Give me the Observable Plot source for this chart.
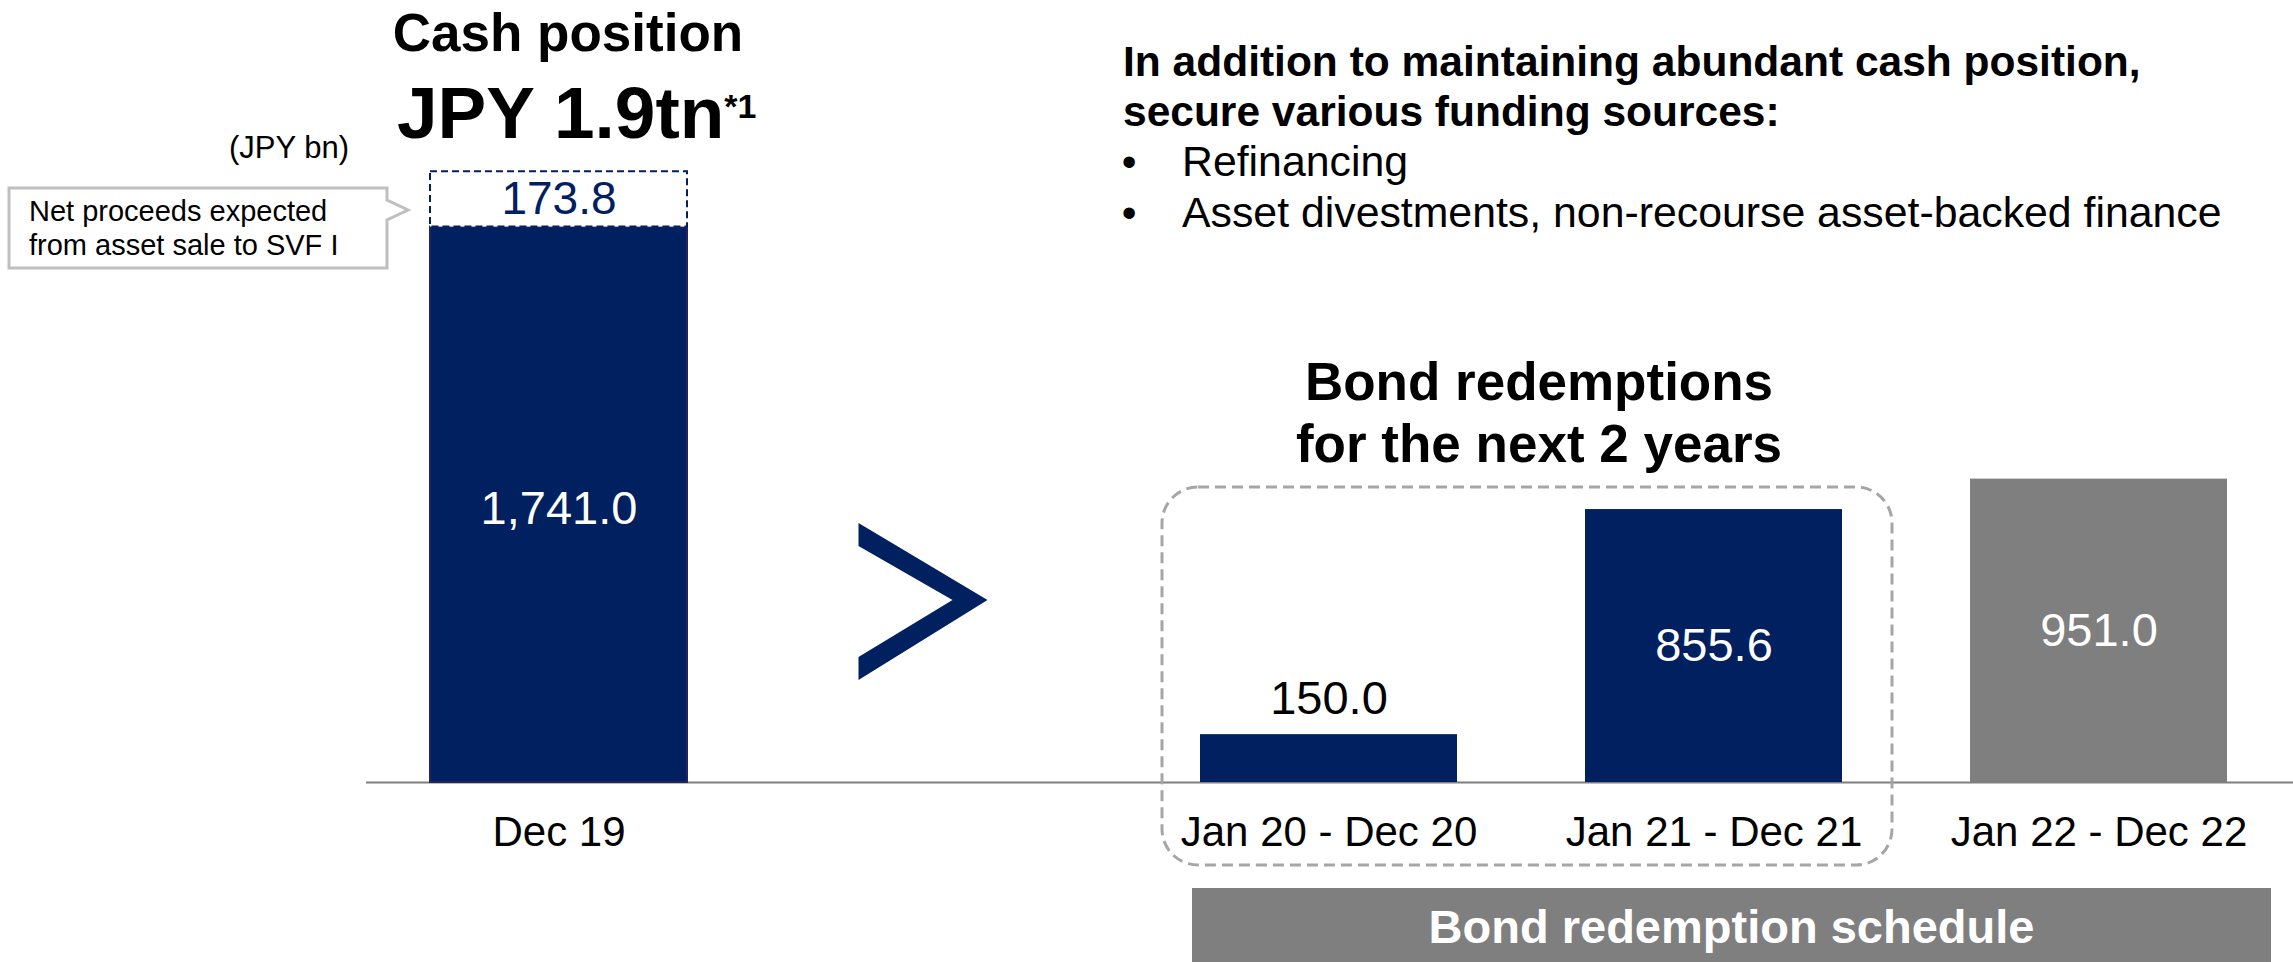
<!DOCTYPE html>
<html>
<head>
<meta charset="utf-8">
<script src="https://cdn.jsdelivr.net/npm/d3@7"></script>
<script src="https://cdn.jsdelivr.net/npm/@observablehq/plot@0.6"></script>
<style>
  html, body { margin: 0; padding: 0; background: #ffffff; }
  #chart { width: 2293px; height: 962px; overflow: hidden; }
  #chart svg { display: block; }
</style>
</head>
<body>
<div id="chart"></div>
<script>
// ---------- data ----------
const categories = ["Dec 19", "gap", "Jan 20 - Dec 20", "Jan 21 - Dec 21", "Jan 22 - Dec 22"];
const cashPeriod = "Dec 19";
const cashValue = 1741.0;          // JPY bn, cash position
const pendingValue = 173.8;        // net proceeds expected from asset sale to SVF I
const bondPeriods = ["Jan 20 - Dec 20", "Jan 21 - Dec 21", "Jan 22 - Dec 22"];
const bondValues = [150.0, 855.6, 951.0];
const nextTwoYears = [true, true, false];

const titleTexts = ["Cash position", "JPY 1.9tn", "*1"];
const unitText = "(JPY bn)";
const calloutLines = ["Net proceeds expected", "from asset sale to SVF I"];
const headlineLines = ["In addition to maintaining abundant cash position,", "secure various funding sources:"];
const bulletItems = ["Refinancing", "Asset divestments, non-recourse asset-backed finance"];
const bondTitleLines = ["Bond redemptions", "for the next 2 years"];
const scheduleText = "Bond redemption schedule";

// ---------- styling ----------
const NAVY = "#002060";
const GRAY = "#7f7f7f";
const FONT = "'Liberation Sans', Arial, Helvetica, sans-serif";
const fmt = d3.format(",.1f");

const cash = [{period: cashPeriod, value: cashValue}];
const pending = [{period: cashPeriod, base: cashValue, value: pendingValue}];
const bonds = bondPeriods.map((p, i) => ({period: p, value: bondValues[i], inWindow: nextTwoYears[i]}));
const labelCats = categories.filter(c => c !== "gap");

const pxPerBn = 0.319;
const baseY = 782;

const plot = Plot.plot({
  width: 2293,
  height: 962,
  marginLeft: 366,
  marginRight: 0,
  marginTop: 0,
  marginBottom: 962 - baseY,
  style: {fontFamily: FONT, background: "#ffffff", overflow: "visible"},
  x: {domain: categories, paddingInner: 1/3, paddingOuter: 1/6, range: [366, 2291], axis: null},
  y: {domain: [0, 2000], range: [baseY, baseY - pxPerBn * 2000], axis: null},
  color: {type: "identity"},
  marks: [
    Plot.ruleY([0], {stroke: GRAY, strokeWidth: 2}),
    Plot.barY(cash, {x: "period", y: "value", fill: NAVY, stroke: "#24235f", strokeWidth: 2}),
    Plot.barY(pending, {x: "period", y1: "base", y2: d => d.base + d.value, fill: "#ffffff",
      stroke: NAVY, strokeWidth: 2, strokeDasharray: "7,4"}),
    Plot.barY(bonds, {x: "period", y: "value", fill: d => d.inWindow ? NAVY : GRAY}),
    // value labels
    Plot.text(cash, {x: "period", y: d => d.value / 2, text: d => fmt(d.value), fill: "#ffffff", fontSize: 47, dy: 4}),
    Plot.text(pending, {x: "period", y: d => d.base + d.value / 2, text: d => fmt(d.value), fill: NAVY, fontSize: 46}),
    Plot.text(bonds.filter(d => d.value > 300), {x: "period", y: d => d.value / 2, text: d => fmt(d.value), fill: "#ffffff", fontSize: 47}),
    Plot.text(bonds.filter(d => d.value <= 300), {x: "period", y: "value", text: d => fmt(d.value), fill: "#000000", fontSize: 47, dy: -36}),
    // category labels
    Plot.text(labelCats, {x: d => d, y: 0, text: d => d, fill: "#000000", fontSize: 42, dy: 50})
  ]
});

document.getElementById("chart").appendChild(plot);

// ---------- annotations positioned from the plot's scales ----------
const sx = plot.scale("x");
const sy = plot.scale("y");
const bw = sx.bandwidth;
const cx = c => sx.apply(c) + bw / 2;
const svg = d3.select(plot);
const g = svg.append("g").attr("font-family", FONT).attr("text-anchor", "start");

// dashed rounded box around the next two years
const bx0 = sx.apply(bondPeriods[0]) - 38;
const bx1 = sx.apply(bondPeriods[1]) + bw + 50;
g.append("rect")
  .attr("x", bx0).attr("y", 487)
  .attr("width", bx1 - bx0).attr("height", 865 - 487)
  .attr("rx", 36).attr("ry", 36)
  .attr("fill", "none").attr("stroke", "#a6a6a6").attr("stroke-width", 3)
  .attr("stroke-dasharray", "11,6");

// chevron ">"
const gx = cx("gap"), gy = 601;
g.append("path")
  .attr("d", `M${gx-85},${gy-78} L${gx+44},${gy-1} L${gx-85},${gy+79} L${gx-85},${gy+56} L${gx+9},${gy-1} L${gx-85},${gy-55} Z`)
  .attr("fill", NAVY);

// bottom schedule band
const sb0 = sx.apply(bondPeriods[0]) - 8;
const sb1 = sx.apply(bondPeriods[2]) + bw + 44;
g.append("rect").attr("x", sb0).attr("y", 888).attr("width", sb1 - sb0).attr("height", 80).attr("fill", GRAY);
g.append("text").attr("x", (sb0 + sb1) / 2).attr("y", 943).attr("text-anchor", "middle")
  .attr("font-size", 47).attr("font-weight", "bold").attr("fill", "#ffffff").text(scheduleText);

// callout for pending proceeds
g.append("path")
  .attr("d", "M9,188 H387 V200 L408,210 L387,220 V268 H9 Z")
  .attr("fill", "#ffffff").attr("stroke", "#bfbfbf").attr("stroke-width", 3).attr("stroke-linejoin", "miter");
calloutLines.forEach((t, i) => {
  g.append("text").attr("x", 29).attr("y", 221 + i * 34).attr("text-anchor", "start")
    .attr("font-size", 29).attr("fill", "#000000").text(t);
});

// unit
g.append("text").attr("x", 349).attr("y", 158).attr("text-anchor", "end")
  .attr("font-size", 31).attr("fill", "#000000").text(unitText);

// cash position title
g.append("text").attr("x", 568).attr("y", 51).attr("text-anchor", "middle")
  .attr("font-size", 53).attr("font-weight", "bold").attr("fill", "#000000").text(titleTexts[0]);
const big = g.append("text").attr("x", 397).attr("y", 138).attr("text-anchor", "start")
  .attr("font-size", 73).attr("font-weight", "bold").attr("fill", "#000000");
big.append("tspan").text(titleTexts[1]);
big.append("tspan").attr("dy", -20).attr("font-size", 34).text(titleTexts[2]);

// headline and bullets
headlineLines.forEach((t, i) => {
  g.append("text").attr("x", 1123).attr("y", 76 + i * 50).attr("text-anchor", "start")
    .attr("font-size", 42.5).attr("font-weight", "bold").attr("fill", "#000000").text(t);
});
bulletItems.forEach((t, i) => {
  const yy = 176 + i * 51;
  g.append("text").attr("x", 1129).attr("y", yy).attr("text-anchor", "middle")
    .attr("font-size", 42).attr("fill", "#000000").text("\u2022");
  g.append("text").attr("x", 1182).attr("y", yy).attr("text-anchor", "start")
    .attr("font-size", 42.8).attr("fill", "#000000").text(t);
});

// bond redemptions title
bondTitleLines.forEach((t, i) => {
  g.append("text").attr("x", 1539).attr("y", 400 + i * 62).attr("text-anchor", "middle")
    .attr("font-size", 53).attr("font-weight", "bold").attr("fill", "#000000").text(t);
});
</script>
</body>
</html>
